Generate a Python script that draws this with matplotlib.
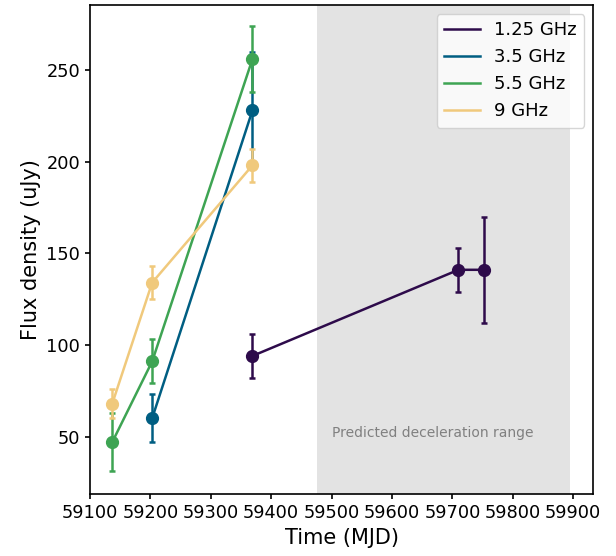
import matplotlib
matplotlib.use('Agg')
import matplotlib.pyplot as plt
import numpy as np

# %% data
labels = ['1.25 GHz', '3.5 GHz', '5.5 GHz', '9 GHz']
colors = ['#2e0b4b', '#005e82', '#3ea453', '#f0c97c']

mjd_125 = [59369, 59710, 59753]
flux_125 = [94, 141, 141]
err_125 = [12, 12, 29]

mjd_35 = [59203, 59369]
flux_35 = [60, 228]
err_35 = [13, 32]

mjd_55 = [59137, 59203, 59369]
flux_55 = [47, 91, 256]
err_55 = [16, 12, 18]

mjd_9 = [59137, 59203, 59369]
flux_9 = [68, 134, 198]
err_9 = [8, 9, 9]

decel_range = (59476, 59894)

# %%
fig = plt.figure(figsize=(6.16, 5.56), dpi=100)
ax = fig.add_axes([0.146, 0.111, 0.817, 0.880])

ax.axvspan(*decel_range, color='#e3e3e3', lw=0, zorder=0)
ax.text(decel_range[0] + 24, 52, 'Predicted deceleration range',
        color='grey', fontsize=10, va='center')

series = [(mjd_125, flux_125, err_125), (mjd_35, flux_35, err_35),
          (mjd_55, flux_55, err_55), (mjd_9, flux_9, err_9)]
for (t, f, e), c, lab in zip(series, colors, labels):
    ax.errorbar(t, f, yerr=e, fmt='o-', color=c, ms=8.5, lw=1.8,
                elinewidth=1.8, capsize=2.5, capthick=1.8, label=lab)

handles = [plt.Line2D([], [], color=c, lw=1.8) for c in colors]
ax.legend(handles, labels, loc='upper right', fontsize=13)

ax.set_xlim(59100, 59933)
ax.set_ylim(18.5, 285.5)
ax.set_xticks(np.arange(59100, 59901, 100))
ax.set_yticks([50, 100, 150, 200, 250])
ax.tick_params(labelsize=12.8, width=1.2)
for s in ax.spines.values():
    s.set_linewidth(1.2)
ax.set_xlabel('Time (MJD)', fontsize=15)
ax.set_ylabel('Flux density (uJy)', fontsize=15)

plt.savefig('out.png', dpi=100)
